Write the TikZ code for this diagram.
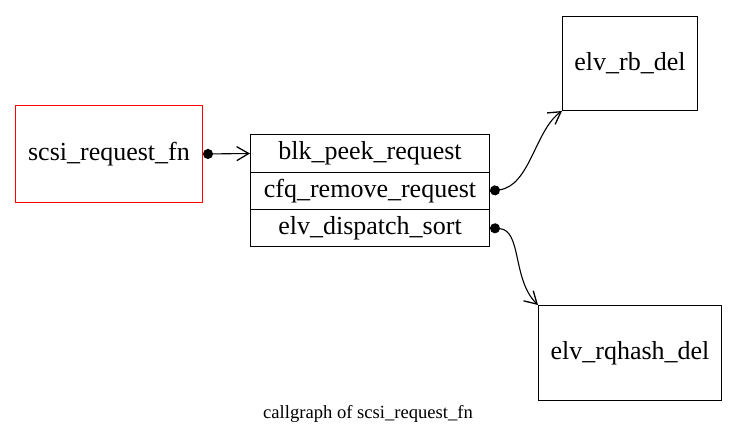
\documentclass[tikz,border=0pt]{standalone}
\usepackage{fontspec}
\setmainfont{Liberation Serif}
\usetikzlibrary{arrows.meta}
\begin{document}
\begin{tikzpicture}[x=1pt,y=-1pt,
  box/.style={draw, line width=1pt, inner sep=0pt, anchor=north west, font=\fontsize{26}{30}\selectfont},
  rowbox/.style={draw, line width=1pt, inner sep=0pt, minimum width=239pt, anchor=north west, font=\fontsize{26}{30}\selectfont},
  call/.style={line width=1.1pt, {Circle[length=10pt]}-{Straight Barb[length=12pt,width=14pt,line width=1.3pt]}}]
\useasboundingbox (0,0) rectangle (736,446);
\node[box, draw=red, minimum width=187pt, minimum height=97pt] (root) at (15,105) {scsi\_request\_fn};
\node[rowbox, minimum height=38pt] (r1) at (250,134) {blk\_peek\_request};
\node[rowbox, minimum height=37pt] (r2) at (250,172) {cfq\_remove\_request};
\node[rowbox, minimum height=37pt] (r3) at (250,209) {elv\_dispatch\_sort};
\node[box, minimum width=135pt, minimum height=94pt] (rb) at (562,16) {elv\_rb\_del};
\node[box, minimum width=183pt, minimum height=95pt] (rq) at (538,305) {elv\_rqhash\_del};
\node[font=\fontsize{18.6}{22}\selectfont] (cap) at (368,414) {callgraph of scsi\_request\_fn};
\draw[call] (root.east) -- (r1.west);
\draw[call] (r2.east) .. controls (530,186) and (535,130) .. (rb.south west);
\draw[call] (r3.east) .. controls (522,230) and (512,280) .. (rq.north west);
\end{tikzpicture}
\end{document}
